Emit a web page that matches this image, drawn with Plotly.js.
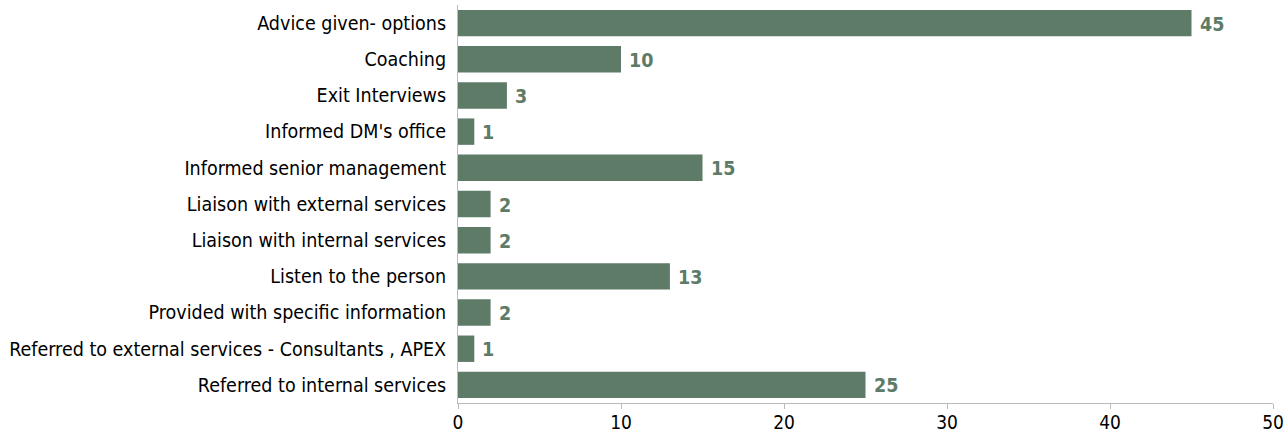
<!DOCTYPE html>
<html><head><meta charset="utf-8">
<script src="https://cdn.plot.ly/plotly-3.0.1.min.js"></script>
<style>body{margin:0;background:#fff}#chart{width:1287px;height:435px}</style>
</head><body><div id="chart"></div>
<script>
const categories = ["Advice given- options","Coaching","Exit Interviews","Informed DM's office","Informed senior management","Liaison with external services","Liaison with internal services","Listen to the person","Provided with specific information","Referred to external services - Consultants , APEX","Referred to internal services"];
const values = [45,10,3,1,15,2,2,13,2,1,25];
const xTicks = [0,10,20,30,40,50];
const barColor = '#5e7b67';
const fontFam = '"DejaVu Sans Condensed", "Liberation Sans Narrow", "Arial Narrow", sans-serif';
Plotly.newPlot('chart', [{
  type:'bar', orientation:'h', y:categories, x:values,
  marker:{color:barColor},
  hoverinfo:'none'
}], {
  width:1287, height:435,
  margin:{l:458, r:14, t:5, b:32},
  bargap:0.27,
  paper_bgcolor:'#fff', plot_bgcolor:'#fff',
  font:{family:fontFam, color:'#000'},
  xaxis:{range:[0,50], tickvals:xTicks, showgrid:false, zeroline:false, showline:true, linecolor:'#bbbbbb', linewidth:1, ticks:'outside', ticklen:5, tickcolor:'#bbbbbb', ticklabelstandoff:-3, tickfont:{size:19, family:fontFam}, fixedrange:true},
  yaxis:{autorange:'reversed', showgrid:false, zeroline:false, showline:true, linecolor:'#bbbbbb', linewidth:1, ticks:'', ticklabelstandoff:7, tickfont:{size:19.5, family:fontFam}, fixedrange:true},
  annotations: values.map((v,i)=>({x:v, y:categories[i], xref:'x', yref:'y', text:String(v), showarrow:false, xanchor:'left', yanchor:'middle', xshift:6, yshift:-1, font:{family:fontFam, size:19.5, color:barColor, weight:'bold'}})),
  showlegend:false
}, {displayModeBar:false, staticPlot:true});
</script></body></html>
